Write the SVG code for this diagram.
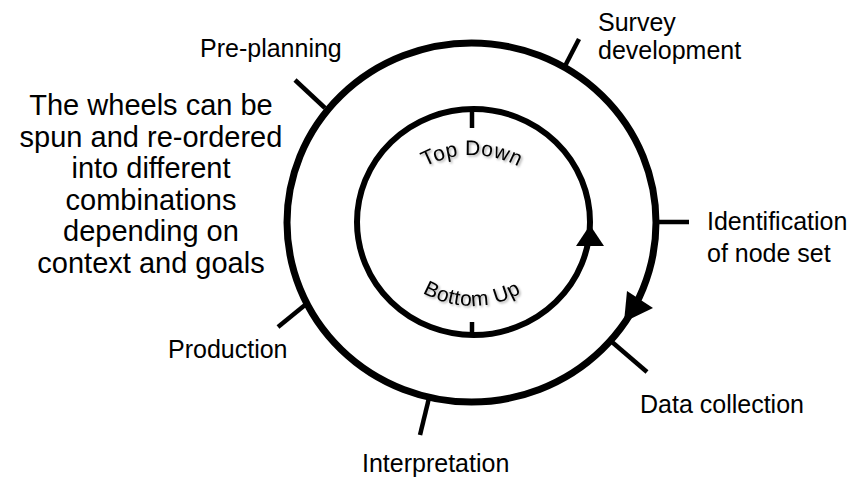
<svg xmlns="http://www.w3.org/2000/svg" width="852" height="477" viewBox="0 0 852 477">
  <style>
    .lbl { font-family: "Liberation Sans", Arial, sans-serif; font-size: 25px; fill: #000; }
    .para { font-family: "Liberation Sans", Arial, sans-serif; font-size: 29px; fill: #000; text-anchor: middle; }
    .arc { font-family: "Liberation Sans", Arial, sans-serif; font-size: 21px; fill: #000; letter-spacing: 0.5px; }
    .tick { stroke: #000; stroke-width: 4.5; fill: none; }
    .wheel { fill: none; stroke: #000; }
    .head { fill: #000; stroke: none; }
  </style>
  <defs>
    <path id="topArc" d="M 372 255 A 100 100 0 0 1 572 255"/>
    <path id="botArc" d="M 372 206 A 100 100 0 0 0 572 206"/>
    <filter id="shadow" x="-10%" y="-10%" width="120%" height="130%">
      <feDropShadow dx="1.5" dy="1.5" stdDeviation="1" flood-color="#000" flood-opacity="0.35"/>
    </filter>
  </defs>
  <rect width="852" height="477" fill="#fff"/>

  <g id="outer-wheel">
    <ellipse class="wheel" cx="471.5" cy="222.5" rx="184.5" ry="179.5" stroke-width="7"/>
  </g>
  <g id="inner-wheel">
    <ellipse class="wheel" cx="473.5" cy="222" rx="116.5" ry="113" stroke-width="6"/>
    <line class="tick" x1="472" y1="108" x2="472" y2="128" stroke-width="4"/>
    <line class="tick" x1="472" y1="322" x2="472" y2="336" stroke-width="4"/>
    <g filter="url(#shadow)">
      <text id="top-down" class="arc"><textPath href="#topArc" startOffset="50%" text-anchor="middle">Top Down</textPath></text>
      <text id="bottom-up" class="arc"><textPath href="#botArc" startOffset="50%" text-anchor="middle">Bottom Up</textPath></text>
    </g>
  </g>

  <g id="connectors">
    <polygon class="head" points="590,225 576,246 604,246"/>
    <polygon class="head" points="624,322 627,291 653,308"/>
  </g>

  <g id="pre-planning">
    <line class="tick" x1="295" y1="80" x2="325" y2="108"/>
    <text class="lbl" x="200" y="57">Pre-planning</text>
  </g>
  <g id="survey-development">
    <line class="tick" x1="579" y1="39" x2="565" y2="66"/>
    <text class="lbl" x="598" y="31">Survey</text>
    <text class="lbl" x="598" y="59">development</text>
  </g>
  <g id="identification">
    <line class="tick" x1="655" y1="222" x2="689" y2="222"/>
    <text class="lbl" x="707" y="230">Identification</text>
    <text class="lbl" x="707" y="262">of node set</text>
  </g>
  <g id="data-collection">
    <line class="tick" x1="612" y1="342" x2="647" y2="372"/>
    <text class="lbl" x="640" y="413">Data collection</text>
  </g>
  <g id="interpretation">
    <line class="tick" x1="429" y1="398" x2="420" y2="435"/>
    <text class="lbl" x="362" y="472">Interpretation</text>
  </g>
  <g id="production">
    <line class="tick" x1="305" y1="305" x2="278" y2="327"/>
    <text class="lbl" x="168" y="358">Production</text>
  </g>

  <g id="note">
    <text class="para" x="151" y="115">The wheels can be</text>
    <text class="para" x="151" y="146.6">spun and re-ordered</text>
    <text class="para" x="151" y="178.2">into different</text>
    <text class="para" x="151" y="209.8">combinations</text>
    <text class="para" x="151" y="241.4">depending on</text>
    <text class="para" x="151" y="273">context and goals</text>
  </g>
</svg>
